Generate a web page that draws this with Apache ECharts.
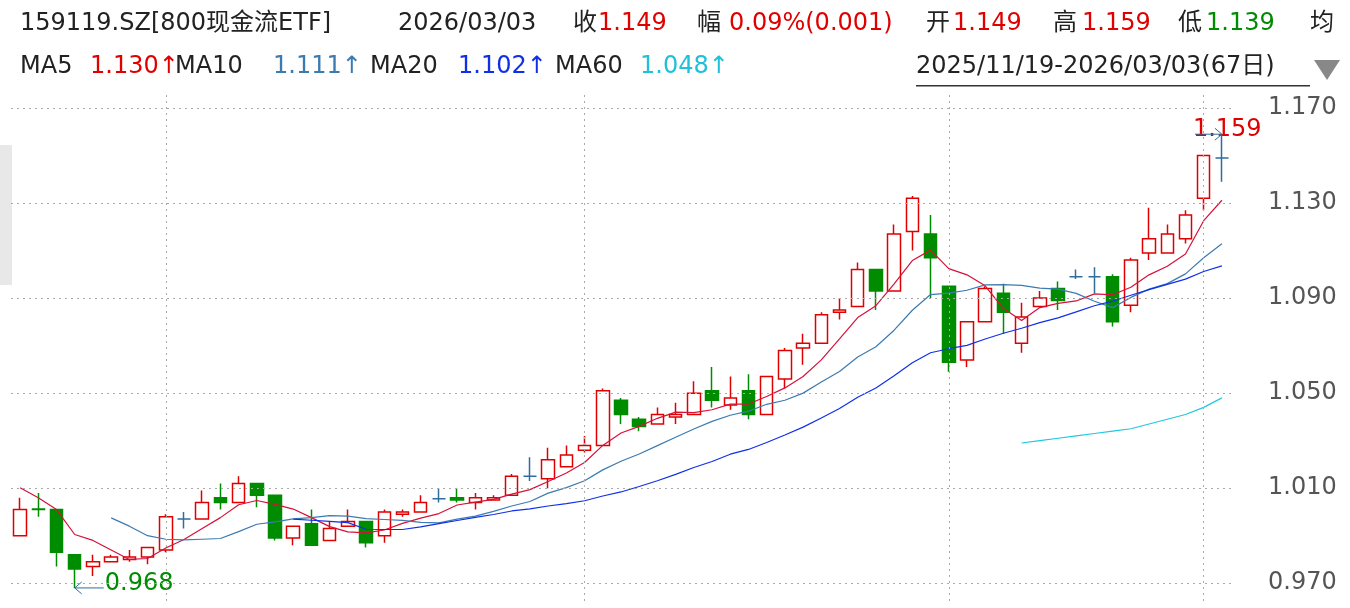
<!DOCTYPE html>
<html><head><meta charset="utf-8">
<script src="https://cdn.jsdelivr.net/npm/echarts@6/dist/echarts.min.js"></script>
<style>html,body{margin:0;padding:0;background:#fff}#c{width:1350px;height:608px}</style>
</head><body><div id="c"></div>
<script>
const dates = ['2025/11/19','2025/11/20','2025/11/21','2025/11/24','2025/11/25','2025/11/26','2025/11/27','2025/11/28',
'2025/12/01','2025/12/02','2025/12/03','2025/12/04','2025/12/05','2025/12/08','2025/12/09','2025/12/10','2025/12/11','2025/12/12',
'2025/12/15','2025/12/16','2025/12/17','2025/12/18','2025/12/19','2025/12/22','2025/12/23','2025/12/24','2025/12/25','2025/12/26',
'2025/12/29','2025/12/30','2025/12/31',
'2026/01/05','2026/01/06','2026/01/07','2026/01/08','2026/01/09','2026/01/12','2026/01/13','2026/01/14','2026/01/15','2026/01/16',
'2026/01/19','2026/01/20','2026/01/21','2026/01/22','2026/01/23','2026/01/26','2026/01/27','2026/01/28','2026/01/29','2026/01/30',
'2026/02/02','2026/02/03','2026/02/04','2026/02/05','2026/02/06','2026/02/09','2026/02/10','2026/02/11','2026/02/12','2026/02/13',
'2026/02/24','2026/02/25','2026/02/26','2026/02/27','2026/03/02','2026/03/03'];
const opens  = [0.990,1.0012,1.001,0.982,0.977,0.979,0.980,0.981,0.984,0.997,0.997,1.006,1.004,1.012,1.007,0.989,0.995,0.988,0.994,0.996,0.990,0.999,1.000,1.0055,1.006,1.004,1.005,1.007,1.015,1.014,1.019,1.026,1.028,1.047,1.039,1.037,1.040,1.041,1.051,1.045,1.051,1.041,1.056,1.069,1.071,1.084,1.0865,1.102,1.093,1.118,1.117,1.095,1.064,1.080,1.092,1.071,1.0865,1.094,1.099,1.099,1.099,1.087,1.109,1.109,1.115,1.132,1.149];
const closes = [1.001,1.001,0.983,0.976,0.979,0.981,0.981,0.985,0.998,0.997,1.004,1.004,1.012,1.007,0.989,0.994,0.986,0.993,0.996,0.987,1.000,1.000,1.004,1.0055,1.005,1.006,1.006,1.015,1.015,1.022,1.024,1.028,1.051,1.041,1.036,1.041,1.041,1.050,1.047,1.048,1.041,1.057,1.068,1.071,1.083,1.085,1.102,1.093,1.117,1.132,1.107,1.063,1.080,1.094,1.084,1.082,1.090,1.089,1.099,1.099,1.080,1.106,1.115,1.117,1.125,1.150,1.149];
const highs  = [1.006,1.008,1.001,0.982,0.982,0.982,0.984,0.985,0.999,1.000,1.009,1.012,1.015,1.012,1.007,0.994,1.001,0.996,1.001,0.996,1.001,1.001,1.007,1.010,1.010,1.008,1.007,1.016,1.023,1.027,1.028,1.032,1.052,1.048,1.040,1.044,1.046,1.055,1.061,1.057,1.058,1.057,1.069,1.075,1.084,1.090,1.105,1.102,1.121,1.133,1.125,1.095,1.080,1.095,1.096,1.088,1.093,1.097,1.102,1.103,1.100,1.107,1.128,1.121,1.127,1.150,1.159];
const lows   = [0.990,0.998,0.977,0.968,0.973,0.979,0.979,0.978,0.983,0.993,0.997,1.001,1.004,1.002,0.988,0.986,0.986,0.988,0.994,0.985,0.987,0.998,1.000,1.004,1.004,1.001,1.005,1.007,1.013,1.010,1.019,1.025,1.028,1.037,1.034,1.037,1.037,1.041,1.044,1.043,1.039,1.041,1.052,1.062,1.071,1.081,1.0865,1.085,1.093,1.110,1.090,1.059,1.061,1.080,1.075,1.067,1.0865,1.085,1.098,1.092,1.078,1.084,1.106,1.109,1.113,1.127,1.139];
const crossIdx = [9,23,28,58,59,66];
const ma5Head = [1.0102,1.006,1.001,0.9905];
const ma10Head = [null,null,null,null,null,0.9975,0.994,0.990,0.9885];
const ma20Head = [null,null,null,null,null,null,null,null,null,null,null,null,null,null,null,0.997,0.9965,0.996,0.9955];
const ma60Vals = [1.029,1.030,1.031,1.032,1.033,1.034,1.035,1.037,1.039,1.041,1.044,1.048];
const ma60Start = 55;
const yTicks = [0.970,1.010,1.050,1.090,1.130,1.170];
const monthStarts = ['2025/12/01','2026/01/05','2026/02/02','2026/03/02'];

function ma(n, head){
  return closes.map((c,i)=>{
    if(i<head.length) return head[i];
    if(i<n-1) return null;
    let s=0; for(let k=i-n+1;k<=i;k++) s+=closes[k];
    return +(s/n).toFixed(4);
  });
}
const ma5=ma(5,ma5Head), ma10=ma(10,ma10Head), ma20=ma(20,ma20Head);
const ma60=dates.map((d,i)=> i>=ma60Start ? ma60Vals[i-ma60Start] : null);

const RED='#e00000', GREEN='#008c00', XB='#2e6e9e';
const kdata = dates.map((d,i)=>{
  const item={value:[opens[i],closes[i],lows[i],highs[i]]};
  if(crossIdx.includes(i)) item.itemStyle={color:XB,borderColor:XB,color0:XB,borderColor0:XB};
  return item;
});

const chart=echarts.init(document.getElementById('c'));
const F='"DejaVu Sans","Noto Sans CJK SC",sans-serif';
const T=(x,y,text,fill,size,align)=>({type:'text',left:x,top:y,style:{text,fill:fill||'#222',font:(size||24)+'px '+F,textAlign:align||'left'}});
const dot={color:'#aaa',type:[2,4],width:1};
chart.setOption({
  animation:false,
  grid:{left:11,right:119,top:95,bottom:7,containLabel:false},
  xAxis:{type:'category',data:dates,boundaryGap:true,
    axisLine:{show:false},axisTick:{show:false},axisLabel:{show:false},splitLine:{show:false}},
  yAxis:{type:'value',position:'right',min:0.9625,max:1.1755,
    axisLine:{show:false},axisTick:{show:false},splitLine:{show:false},
    axisLabel:{customValues:yTicks,margin:37,color:'#555',fontSize:24,fontFamily:F,formatter:v=>v.toFixed(3)}},
  series:[
    {type:'candlestick',data:kdata,barWidth:13,
     itemStyle:{color:'#fff',borderColor:RED,color0:GREEN,borderColor0:GREEN,borderWidth:1.5},
     markLine:{silent:true,symbol:'none',label:{show:false},lineStyle:dot,
       data:yTicks.map(v=>({yAxis:v})).concat(monthStarts.map(d=>({xAxis:d})))}},
    {type:'line',data:ma5,symbol:'none',lineStyle:{color:'#d6113a',width:1.2}},
    {type:'line',data:ma10,symbol:'none',lineStyle:{color:'#3c7bb0',width:1.2}},
    {type:'line',data:ma20,symbol:'none',lineStyle:{color:'#1030e8',width:1.2}},
    {type:'line',data:ma60,symbol:'none',lineStyle:{color:'#20c8e0',width:1.2}}
  ]
});
const hi=chart.convertToPixel({xAxisIndex:0,yAxisIndex:0},[66,1.159]);
const lo=chart.convertToPixel({xAxisIndex:0,yAxisIndex:0},[3,0.968]);
chart.setOption({graphic:[
    T(20,12,'159119.SZ[800现金流ETF]'),T(398,12,'2026/03/03'),
    T(573,12,'收'),T(598,12,'1.149',RED),T(697,12,'幅'),T(729,12,'0.09%(0.001)',RED),
    T(926,12,'开'),T(953,12,'1.149',RED),T(1053,12,'高'),T(1082,12,'1.159',RED),
    T(1178,12,'低'),T(1206,12,'1.139',GREEN),T(1310,12,'均'),
    T(20,55,'MA5'),T(90,55,'1.130↑',RED),T(175,55,'MA10'),T(273,55,'1.111↑','#3c7bb0'),
    T(370,55,'MA20'),T(458,55,'1.102↑','#1030e8'),T(555,55,'MA60'),T(640,55,'1.048↑','#20c0d8'),
    T(916,55,'2025/11/19-2026/03/03(67日)'),
    {type:'rect',shape:{x:916,y:85,width:394,height:1.5},style:{fill:'#333'}},
    {type:'polygon',shape:{points:[[1314,60],[1340,60],[1327,80]]},style:{fill:'#888'}},
    {type:'rect',shape:{x:0,y:145,width:12,height:140},style:{fill:'#e8e8e8'}},
    T(hi[0]-29,hi[1]-16,'1.159',RED,24,'right'),
    {type:'line',shape:{x1:hi[0]-27,y1:hi[1],x2:hi[0],y2:hi[1]},style:{stroke:XB,lineWidth:1}},
    {type:'polyline',shape:{points:[[hi[0]-7,hi[1]-6],[hi[0],hi[1]],[hi[0]-7,hi[1]+6]]},style:{stroke:XB,fill:null,lineWidth:1}},
    T(lo[0]+30,lo[1]-16,'0.968',GREEN),
    {type:'line',shape:{x1:lo[0],y1:lo[1],x2:lo[0]+29,y2:lo[1]},style:{stroke:XB,lineWidth:1}},
    {type:'polyline',shape:{points:[[lo[0]+7,lo[1]-6],[lo[0],lo[1]],[lo[0]+7,lo[1]+6]]},style:{stroke:XB,fill:null,lineWidth:1}}
]});
</script></body></html>
